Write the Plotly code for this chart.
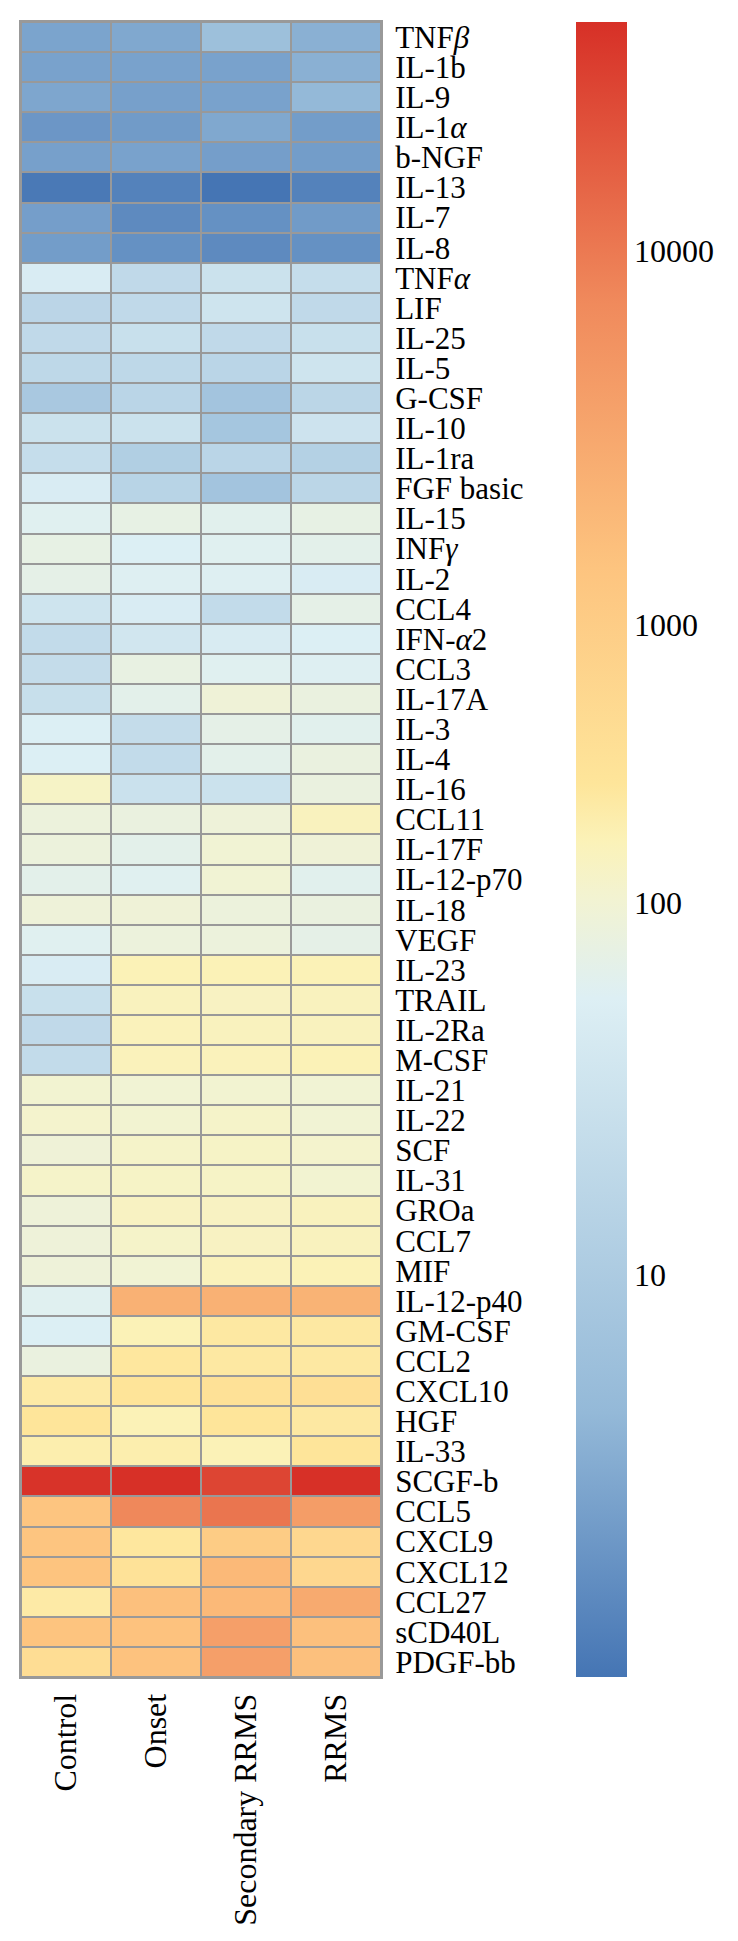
import numpy as np
import plotly.graph_objects as go

groups = ["Control", "Onset", "Secondary RRMS", "RRMS"]

cytokines = ["TNF<i>β</i>", "IL-1b", "IL-9", "IL-1<i>α</i>", "b-NGF", "IL-13", "IL-7", "IL-8",
             "TNF<i>α</i>", "LIF", "IL-25", "IL-5", "G-CSF", "IL-10", "IL-1ra", "FGF basic",
             "IL-15", "INF<i>γ</i>", "IL-2", "CCL4", "IFN-<i>α</i>2", "CCL3", "IL-17A", "IL-3",
             "IL-4", "IL-16", "CCL11", "IL-17F", "IL-12-p70", "IL-18", "VEGF", "IL-23", "TRAIL",
             "IL-2Ra", "M-CSF", "IL-21", "IL-22", "SCF", "IL-31", "GROa", "CCL7", "MIF",
             "IL-12-p40", "GM-CSF", "CCL2", "CXCL10", "HGF", "IL-33", "SCGF-b", "CCL5", "CXCL9",
             "CXCL12", "CCL27", "sCD40L", "PDGF-bb"]

control = [2.6, 2.5, 2.75, 1.9, 2.4, 0.95, 2.3, 2.2,
           48.8, 16.5, 19.7, 18.7, 8.8, 29.5, 24.1, 48.8,
           59.7, 73.1, 69.5, 32.6, 21.8, 22.9, 25.3, 54.0,
           54.0, 129, 85.1, 85.1, 66.1, 89.5, 59.7, 48.8, 26.6,
           19.7, 21.8, 105, 113, 94.1, 121, 89.5, 89.5, 89.5,
           59.7, 54.0, 80.9, 221, 271, 194, 40000, 1340, 1340,
           1410, 221, 1410, 405]
onset = [2.9, 2.5, 2.4, 2.1, 2.5, 1.16, 1.43, 1.66,
         19.7, 19.7, 26.6, 18.7, 16.1, 29.5, 11.9, 15.3,
         73.1, 54.0, 56.8, 48.8, 36.1, 76.9, 66.1, 22.9,
         21.8, 28.0, 80.9, 66.1, 59.7, 94.1, 85.1, 169, 148,
         158, 158, 99, 105, 121, 129, 138, 121, 99,
         2380, 169, 253, 290, 169, 194, 42000, 7500, 253,
         310, 1570, 1490, 1490]
secondary = [5.9, 2.5, 2.5, 2.9, 2.3, 0.86, 1.66, 1.43,
             29.5, 32.6, 19.7, 16.1, 7.2, 7.9, 16.1, 7.2,
             62.8, 59.7, 56.8, 21.8, 46.4, 59.7, 94.1, 69.5,
             66.1, 29.5, 89.5, 99, 99, 85.1, 85.1, 169, 138,
             148, 158, 105, 121, 129, 129, 138, 138, 158,
             2380, 237, 237, 331, 271, 169, 28000, 10900, 1030,
             1930, 1930, 4020, 4020]
rrms = [3.5, 3.5, 4.3, 2.2, 2.2, 1.16, 2.1, 1.66,
        24.1, 19.7, 26.6, 32.6, 16.9, 31.0, 13.1, 16.9,
        73.1, 66.1, 48.8, 69.5, 54.0, 56.8, 80.9, 62.8,
        80.9, 80.9, 148, 94.1, 62.8, 80.9, 69.5, 169, 148,
        148, 169, 99, 99, 113, 105, 148, 148, 169,
        2260, 237, 237, 379, 237, 271, 42000, 4240, 567,
        567, 2940, 1570, 1570]

tick_values = [10, 100, 1000, 10000]
tick_labels = ["10", "100", "1000", "10000"]

# Non-uniform colour-key scale (log10 value -> key position), as in the legend
KEY_LOG = [-0.066, 1, 2, 3, 4, 4.627]
KEY_POS = [0.0, 0.243, 0.468, 0.636, 0.862, 1.0]


def to_pos(v):
    return np.interp(np.log10(np.asarray(v, dtype=float)), KEY_LOG, KEY_POS)


vals = np.array([control, onset, secondary, rrms]).T
z = to_pos(vals)

colorscale = [[0.00, "#4575b4"], [0.16, "#94b9d8"], [0.41, "#ddeff4"], [0.47, "#f2f3d2"],
              [0.505, "#fbf2b8"], [0.54, "#fee59a"], [0.67, "#fdc47f"], [0.83, "#f08a5c"],
              [1.0, "#d73027"]]

FONT = "Liberation Serif"
rows = list(range(len(cytokines)))

# the page body adds an 8 px offset; sizes/margins compensate for it
fig = go.Figure(go.Heatmap(
    z=z, x=groups, y=rows, customdata=vals,
    colorscale=colorscale, zmin=0, zmax=1,
    xgap=2, ygap=2,
    hovertemplate="%{x}<br>%{customdata}<extra></extra>",
    colorbar=dict(
        tickvals=list(to_pos(tick_values)), ticktext=tick_labels,
        ticks="", outlinewidth=0, thickness=51,
        lenmode="pixels", len=1655, y=0.5, yanchor="middle",
        x=(576 - 21) / 360, xanchor="left", xpad=0, ypad=0,
        tickfont=dict(family=FONT, size=32, color="black"),
    ),
))

fig.update_layout(
    width=730, height=1933,
    margin=dict(l=13, r=357, t=14, b=264, autoexpand=False),
    paper_bgcolor="white", plot_bgcolor="#999999",
    font=dict(family=FONT, size=32, color="black"),
)
fig.update_xaxes(tickangle=-90, ticks="", showgrid=False, zeroline=False,
                 showline=True, linecolor="#999999", linewidth=2, mirror=True,
                 tickfont=dict(family=FONT, size=32), ticklabelstandoff=2)
fig.update_yaxes(side="right", autorange="reversed", tickmode="array",
                 tickvals=rows, ticktext=cytokines, ticks="", showgrid=False,
                 zeroline=False, showline=True, linecolor="#999999", linewidth=2,
                 mirror=True, tickfont=dict(family=FONT, size=31), ticklabelstandoff=6)

fig.write_html("out.html")
